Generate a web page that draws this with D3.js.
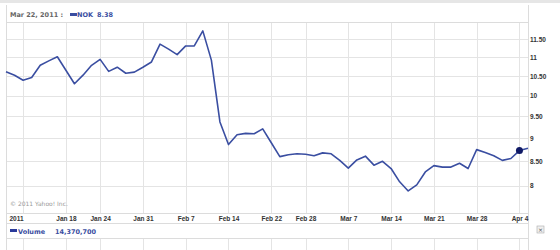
<!DOCTYPE html>
<html>
<head>
<meta charset="utf-8">
<script src="https://cdn.jsdelivr.net/npm/d3@7/dist/d3.min.js"></script>
<style>
  body { margin: 0; background: #fff; }
  svg { display: block; font-family: "DejaVu Sans", Verdana, sans-serif; }
  .axis path { display: none; }
  .grid line { stroke: #e4e4e4; shape-rendering: crispEdges; }
  .frame { stroke: #dcdcdc; shape-rendering: crispEdges; }
  .axis text { font-size: 6.5px; font-weight: bold; fill: #333; }
</style>
</head>
<body>
<svg id="chart" width="560" height="250"></svg>
<script>
// NOK daily close, Jan 6 - Apr 5 2011 (trading days only)
const dates = [
  '2011-01-06', '2011-01-07', '2011-01-10', '2011-01-11', '2011-01-12', '2011-01-13', '2011-01-14',
  '2011-01-18', '2011-01-19', '2011-01-20', '2011-01-21', '2011-01-24', '2011-01-25', '2011-01-26',
  '2011-01-27', '2011-01-28', '2011-01-31', '2011-02-01', '2011-02-02', '2011-02-03', '2011-02-04',
  '2011-02-07', '2011-02-08', '2011-02-09', '2011-02-10', '2011-02-11', '2011-02-14', '2011-02-15',
  '2011-02-16', '2011-02-17', '2011-02-18', '2011-02-22', '2011-02-23', '2011-02-24', '2011-02-25',
  '2011-02-28', '2011-03-01', '2011-03-02', '2011-03-03', '2011-03-04', '2011-03-07', '2011-03-08',
  '2011-03-09', '2011-03-10', '2011-03-11', '2011-03-14', '2011-03-15', '2011-03-16', '2011-03-17',
  '2011-03-18', '2011-03-21', '2011-03-22', '2011-03-23', '2011-03-24', '2011-03-25', '2011-03-28',
  '2011-03-29', '2011-03-30', '2011-03-31', '2011-04-01', '2011-04-04', '2011-04-05'
]

const closes = [
  10.61, 10.52, 10.39, 10.46, 10.78, 10.90, 11.01,
  10.65, 10.30, 10.52, 10.78, 10.94, 10.62, 10.73,
  10.57, 10.60, 10.73, 10.87, 11.36, 11.22, 11.07,
  11.31, 11.31, 11.74, 10.92, 9.37, 8.86, 9.08,
  9.11, 9.10, 9.21, 8.90, 8.60, 8.64, 8.66,
  8.65, 8.62, 8.68, 8.66, 8.52, 8.36, 8.53,
  8.61, 8.42, 8.50, 8.35, 8.08, 7.90, 8.02,
  8.28, 8.41, 8.38, 8.38, 8.46, 8.35, 8.75,
  8.69, 8.62, 8.52, 8.56, 8.73, 8.78
]

const tickDates = [
  '2011-01-10', '2011-01-18', '2011-01-24', '2011-01-31', '2011-02-07', '2011-02-14', '2011-02-22',
  '2011-02-28', '2011-03-07', '2011-03-14', '2011-03-21', '2011-03-28', '2011-04-04'
]
const tickLabels = [
  '2011', 'Jan 18', 'Jan 24', 'Jan 31', 'Feb 7', 'Feb 14', 'Feb 22',
  'Feb 28', 'Mar 7', 'Mar 14', 'Mar 21', 'Mar 28', 'Apr 4'
]

const priceTicks = [8, 8.5, 9, 9.5, 10, 10.5, 11, 11.5]
const priceLabels = ['8', '8.50', '9', '9.50', '10', '10.50', '11', '11.50']

const markerDate = '2011-04-04'
const headerDate = 'Mar 22, 2011 :'
const headerSymbol = 'NOK'
const headerValue = '8.38'
const volumeLabel = '14,370,700'

//

const plotLeft = 6
const plotRight = 528
const plotTop = 22
const plotBottom = 213

const svg = d3.select('#chart')

const x = d3.scalePoint()
  .domain(dates)
  .range([plotLeft, plotRight])

const y = d3.scaleLog()
  .domain([7.48, 12])
  .range([plotBottom, plotTop])

// top bar
svg.append('rect')
  .attr('x', 0).attr('y', 0)
  .attr('width', 560).attr('height', 3)
  .attr('fill', '#e6e6e6')

// vertical gridlines, price panel and volume panel
const xGrid = d3.axisBottom(x)
  .tickValues(tickDates)
  .tickSize(plotBottom - plotTop)
  .tickFormat('')

svg.append('g')
  .attr('class', 'axis grid')
  .attr('transform', `translate(0,${plotTop})`)
  .call(xGrid)

svg.append('g')
  .attr('class', 'axis grid')
  .attr('transform', 'translate(0,238)')
  .call(xGrid.tickSize(14))

// horizontal gridlines
svg.append('g')
  .attr('class', 'axis grid')
  .attr('transform', `translate(${plotRight},0)`)
  .call(d3.axisLeft(y)
    .tickValues(priceTicks)
    .tickSize(plotRight - plotLeft)
    .tickFormat(''))

// frame lines
const hLines = [plotTop, plotBottom, 223, 238]
svg.selectAll('line.h')
  .data(hLines)
  .enter()
  .append('line')
  .attr('class', 'frame h')
  .attr('x1', plotLeft).attr('x2', plotRight)
  .attr('y1', (d) => d).attr('y2', (d) => d)

svg.selectAll('line.v')
  .data([plotLeft, plotRight])
  .enter()
  .append('line')
  .attr('class', 'frame v')
  .attr('x1', (d) => d).attr('x2', (d) => d)
  .attr('y1', 5).attr('y2', 250)

// price axis labels
svg.append('g')
  .attr('class', 'axis')
  .attr('transform', `translate(${plotRight},0)`)
  .call(d3.axisRight(y)
    .tickValues(priceTicks)
    .tickSize(0)
    .tickPadding(2)
    .tickFormat((d, i) => priceLabels[i]))

// date axis labels
const gX = svg.append('g')
  .attr('class', 'axis')
  .attr('transform', `translate(0,${plotBottom})`)
  .call(d3.axisBottom(x)
    .tickValues(tickDates)
    .tickSize(0)
    .tickPadding(3)
    .tickFormat((d, i) => tickLabels[i]))

gX.selectAll('text')
  .filter((d, i) => i === 0)
  .attr('text-anchor', 'end')

// price line
const line = d3.line()
  .x((d, i) => x(dates[i]))
  .y((d) => y(d))

svg.append('path')
  .datum(closes)
  .attr('fill', 'none')
  .attr('stroke', '#3a4ea1')
  .attr('stroke-width', 1.6)
  .attr('stroke-linejoin', 'round')
  .attr('d', line)

svg.append('circle')
  .attr('cx', x(markerDate))
  .attr('cy', y(closes[dates.indexOf(markerDate)]))
  .attr('r', 3.5)
  .attr('fill', '#101a66')

// header
svg.append('text')
  .attr('x', 10).attr('y', 17)
  .attr('font-size', 6.5).attr('font-weight', 'bold')
  .attr('fill', '#666')
  .text(headerDate)

svg.append('rect')
  .attr('x', 70).attr('y', 13)
  .attr('width', 7).attr('height', 3)
  .attr('fill', '#3a4ea1')

svg.append('text')
  .attr('x', 77).attr('y', 17)
  .attr('font-size', 6.5).attr('font-weight', 'bold')
  .attr('fill', '#3a4ea1')
  .text(headerSymbol)

svg.append('text')
  .attr('x', 97).attr('y', 17)
  .attr('font-size', 6.5).attr('font-weight', 'bold')
  .attr('fill', '#3a4ea1')
  .text(headerValue)

// copyright
svg.append('text')
  .attr('x', 10).attr('y', 206)
  .attr('font-size', 6).attr('fill', '#999')
  .text('\u00a9 2011 Yahoo! Inc.')

// volume legend
svg.append('rect')
  .attr('x', 10).attr('y', 229)
  .attr('width', 7).attr('height', 3)
  .attr('fill', '#2a3a9a')

svg.append('text')
  .attr('x', 18).attr('y', 233.5)
  .attr('font-size', 6.5).attr('font-weight', 'bold')
  .attr('fill', '#3a4ea1')
  .text('Volume')

svg.append('text')
  .attr('x', 55).attr('y', 233.5)
  .attr('font-size', 6.5).attr('font-weight', 'bold')
  .attr('fill', '#3a4ea1')
  .text(volumeLabel)

// close button
const btn = svg.append('g')
  .attr('transform', 'translate(537,226)')

btn.append('rect')
  .attr('width', 7).attr('height', 7)
  .attr('fill', '#f0f0f0')
  .attr('stroke', '#aaa')
  .attr('stroke-width', 0.6)

btn.append('text')
  .attr('x', 3.5).attr('y', 5.5)
  .attr('text-anchor', 'middle')
  .attr('font-size', 6)
  .attr('fill', '#555')
  .text('\u00d7')
</script>
</body>
</html>
